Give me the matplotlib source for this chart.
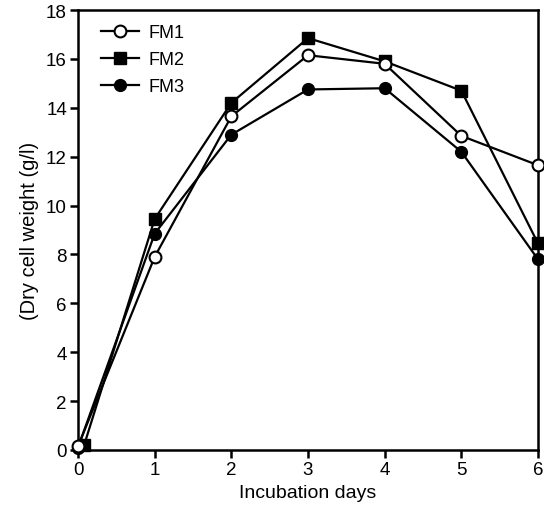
import numpy as np
import matplotlib.pyplot as plt

plt.rcParams['font.family'] = ['Liberation Sans', 'DejaVu Sans']

# Datos
dias = [0, 1, 2, 3, 4, 5, 6]
dias_fm2 = [0.08, 1, 2, 3, 4, 5, 6]
fm1 = [0.15, 7.9, 13.65, 16.15, 15.8, 12.85, 11.65]
fm2 = [0.2, 9.45, 14.2, 16.85, 15.9, 14.7, 8.45]
fm3 = [0.1, 8.85, 12.9, 14.75, 14.8, 12.2, 7.8]

fig = plt.figure(figsize=(5.44, 5.10), dpi=100)
ax = fig.add_axes([0.1434, 0.1157, 0.8456, 0.8627])

lw = 1.6
ms = 8.5
ax.plot(dias, fm1, "-o", color="k", mfc="white", mec="k", mew=1.5, lw=lw, ms=ms, label="FM1", clip_on=False, zorder=3)
ax.plot(dias_fm2, fm2, "-s", color="k", lw=lw, ms=ms, label="FM2", clip_on=False, zorder=2)
ax.plot(dias, fm3, "-o", color="k", lw=lw, ms=ms, label="FM3", clip_on=False, zorder=2)

ax.set_xlim(0, 6)
ax.set_ylim(0, 18)
ax.set_xticks(range(0, 7))
ax.set_yticks(range(0, 19, 2))

for s in ax.spines.values():
    s.set_linewidth(1.8)
ax.tick_params(direction="out", length=6, width=1.8, labelsize=13.5, pad=2)

ax.set_xlabel("Incubation days", fontsize=14, labelpad=4)
ax.set_ylabel("(Dry cell weight (g/l)", fontsize=14.5, labelpad=5)

ax.legend(loc="upper left", frameon=False, fontsize=13, handlelength=2.1,
          handletextpad=0.55, labelspacing=0.55, borderaxespad=0.4,
          bbox_to_anchor=(0.018, 1.0))

fig.savefig("out.png", dpi=100)
